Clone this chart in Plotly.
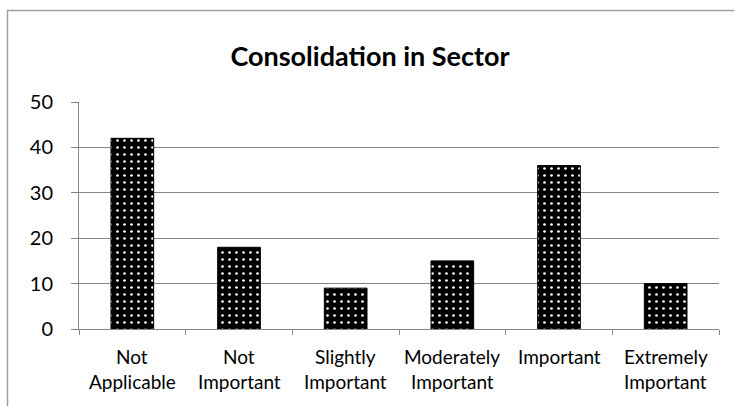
import plotly.graph_objects as go

# Survey responses: importance of consolidation in the sector
categories = ["Not<br>Applicable", "Not<br>Important", "Slightly<br>Important",
              "Moderately<br>Important", "Important", "Extremely<br>Important"]
counts = [42, 18, 9, 15, 36, 10]
y_ticks = [0, 10, 20, 30, 40, 50]

W, H = 734, 406
left, right, top, bottom = 79, 15, 102, 77
plot_w = W - left - right
plot_h = H - top - bottom

def px_x(p):
    return (p - left) / plot_w

def px_y(p):
    return (H - bottom - p) / plot_h

grid = "#868686"
font = "Lato"

fig = go.Figure(
    go.Bar(
        x=categories,
        y=counts,
        width=0.4,
        marker=dict(
            color="black",
            line=dict(color="black", width=1),
            pattern=dict(shape=".", fgcolor="white", bgcolor="black",
                         size=7, solidity=0.12, fillmode="replace"),
        ),
    )
)

fig.update_layout(
    width=W, height=H,
    margin=dict(l=left, r=right, t=top, b=bottom),
    paper_bgcolor="white", plot_bgcolor="white",
    showlegend=False,
    title=dict(text="<b>Consolidation in Sector</b>", x=370 / W, xanchor="center",
               y=1 - 57 / H, yanchor="middle",
               font=dict(family=font, size=27, color="black")),
    font=dict(family=font, color="black"),
)

fig.update_xaxes(
    type="category", tickson="boundaries", ticks="outside", ticklen=5,
    tickcolor=grid, showline=True, linecolor=grid, linewidth=1,
    showgrid=False, showticklabels=False,
)
fig.update_yaxes(
    range=[0, 50], tickvals=y_ticks, ticks="outside", ticklen=7,
    tickcolor=grid, showline=True, linecolor=grid, linewidth=1,
    showgrid=True, gridcolor=grid, gridwidth=1, zeroline=False,
    tickfont=dict(size=20, color="black"), ticklabelstandoff=14,
)

# Category labels, one annotation per text line for wider line spacing
line_rows = [356, 381]
for cat in categories:
    for i, part in enumerate(cat.split("<br>")):
        fig.add_annotation(
            x=cat, xref="x", y=px_y(line_rows[i]), yref="paper",
            text=part, showarrow=False, xanchor="center", yanchor="middle",
            font=dict(family=font, size=19, color="black"),
        )

# Outer chart border (left and top edges)
fig.add_shape(
    type="path", xref="paper", yref="paper",
    path=f"M {px_x(7.5)} {px_y(420)} L {px_x(7.5)} {px_y(10.5)} L {px_x(740)} {px_y(10.5)}",
    line=dict(color="#a0a0a0", width=1.5),
)

fig.write_html("out.html")
